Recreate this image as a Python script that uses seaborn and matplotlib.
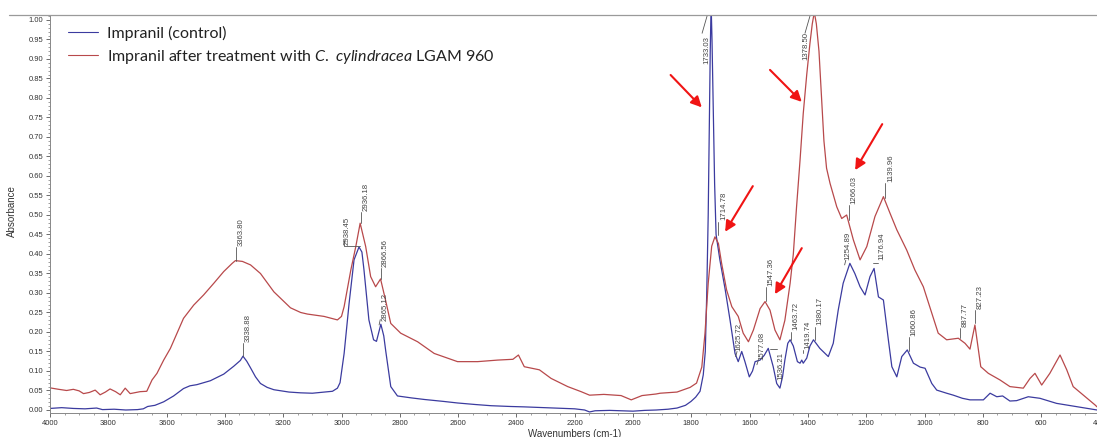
import numpy as np
import pandas as pd
import matplotlib
matplotlib.use("Agg")
import matplotlib.pyplot as plt
from matplotlib.lines import Line2D
from matplotlib.ticker import MultipleLocator, FormatStrFormatter
import seaborn as sns

# ---------------- data ----------------
control_wn = [4000, 3960, 3920, 3880, 3840, 3820, 3780, 3740, 3700, 3680, 3665, 3640, 3610, 3576,
              3542, 3520, 3496, 3450, 3404, 3370, 3347, 3338, 3325, 3312, 3295, 3278, 3255, 3232,
              3180, 3140, 3100, 3060, 3031, 3014, 3005, 2991, 2974, 2957, 2940, 2930, 2923, 2906,
              2890, 2880, 2865, 2855, 2848, 2831, 2808, 2760, 2716, 2650, 2602, 2540, 2487, 2420,
              2373, 2300, 2258, 2200, 2166, 2149, 2130, 2080, 2040, 2000, 1960, 1920, 1880, 1849,
              1820, 1801, 1785, 1770, 1759, 1752, 1747, 1742, 1738, 1735, 1732, 1729, 1725, 1720,
              1715, 1702, 1684, 1667, 1650, 1639, 1627, 1616, 1601, 1590, 1581, 1564, 1550, 1536,
              1519, 1507, 1496, 1487, 1479, 1469, 1461, 1450, 1436, 1427, 1421, 1416, 1404, 1393,
              1381, 1359, 1330, 1313, 1296, 1279, 1256, 1239, 1221, 1204, 1187, 1173, 1158, 1141,
              1124, 1112, 1095, 1078, 1059, 1038, 1015, 998, 975, 958, 924, 901, 870, 844, 820,
              798, 775, 752, 732, 707, 684, 644, 604, 547, 490, 450, 408]
control_abs = [0.004, 0.006, 0.004, 0.003, 0.005, 0.001, 0.002, 0.000, 0.001, 0.003, 0.009, 0.012,
               0.021, 0.036, 0.055, 0.062, 0.065, 0.075, 0.092, 0.112, 0.127, 0.138, 0.125, 0.108,
               0.085, 0.068, 0.058, 0.052, 0.046, 0.044, 0.043, 0.046, 0.048, 0.056, 0.070, 0.145,
               0.273, 0.385, 0.418, 0.405, 0.360, 0.231, 0.180, 0.176, 0.220, 0.190, 0.150, 0.060,
               0.036, 0.031, 0.027, 0.022, 0.018, 0.014, 0.011, 0.009, 0.008, 0.006, 0.005, 0.003,
               0.000, -0.005, -0.002, -0.001, -0.002, -0.003, -0.001, 0.000, 0.002, 0.005, 0.012,
               0.022, 0.033, 0.048, 0.090, 0.150, 0.300, 0.500, 0.750, 0.920, 1.040, 0.950, 0.780,
               0.580, 0.450, 0.385, 0.310, 0.230, 0.145, 0.124, 0.150, 0.124, 0.085, 0.100, 0.124,
               0.128, 0.140, 0.158, 0.111, 0.068, 0.056, 0.085, 0.128, 0.171, 0.180, 0.164, 0.124,
               0.120, 0.128, 0.120, 0.133, 0.164, 0.180, 0.158, 0.137, 0.171, 0.256, 0.325, 0.376,
               0.350, 0.316, 0.295, 0.342, 0.363, 0.290, 0.282, 0.180, 0.111, 0.085, 0.137, 0.154,
               0.120, 0.110, 0.107, 0.068, 0.051, 0.043, 0.038, 0.030, 0.026, 0.026, 0.026, 0.043,
               0.034, 0.036, 0.023, 0.024, 0.034, 0.030, 0.017, 0.010, 0.005, 0.000]

treated_wn = [4000, 3994, 3970, 3943, 3920, 3900, 3885, 3865, 3845, 3828, 3810, 3794, 3775, 3759,
              3742, 3725, 3705, 3691, 3668, 3650, 3633, 3610, 3587, 3564, 3542, 3507, 3473, 3438,
              3404, 3375, 3364, 3340, 3312, 3278, 3232, 3200, 3175, 3140, 3117, 3060, 3014, 3000,
              2991, 2968, 2951, 2936, 2917, 2900, 2883, 2866, 2849, 2831, 2797, 2739, 2682, 2602,
              2533, 2464, 2412, 2393, 2373, 2321, 2281, 2224, 2178, 2149, 2100, 2041, 2006, 1969,
              1921, 1907, 1849, 1804, 1782, 1764, 1753, 1742, 1730, 1719, 1707, 1696, 1679, 1661,
              1639, 1622, 1604, 1587, 1564, 1547, 1530, 1513, 1496, 1479, 1461, 1450, 1439, 1427,
              1416, 1404, 1393, 1385, 1378, 1371, 1362, 1353, 1345, 1336, 1324, 1301, 1284, 1267,
              1244, 1221, 1198, 1170, 1141, 1118, 1095, 1061, 1033, 1004, 975, 953, 924, 884, 861,
              844, 827, 815, 807, 781, 741, 707, 661, 638, 621, 598, 570, 535, 512, 490, 455, 415,
              408]
treated_abs = [0.057, 0.056, 0.053, 0.050, 0.053, 0.049, 0.042, 0.045, 0.051, 0.039, 0.046, 0.054,
               0.047, 0.039, 0.056, 0.042, 0.045, 0.047, 0.048, 0.077, 0.094, 0.128, 0.158, 0.197,
               0.235, 0.269, 0.295, 0.325, 0.355, 0.376, 0.383, 0.381, 0.372, 0.350, 0.303, 0.280,
               0.262, 0.250, 0.246, 0.240, 0.231, 0.240, 0.265, 0.359, 0.419, 0.479, 0.419, 0.342,
               0.316, 0.336, 0.282, 0.222, 0.197, 0.175, 0.145, 0.124, 0.124, 0.128, 0.130, 0.141,
               0.111, 0.103, 0.081, 0.060, 0.047, 0.038, 0.040, 0.037, 0.026, 0.037, 0.041, 0.043,
               0.046, 0.058, 0.069, 0.110, 0.197, 0.325, 0.420, 0.444, 0.427, 0.376, 0.308, 0.265,
               0.240, 0.197, 0.175, 0.205, 0.260, 0.278, 0.256, 0.205, 0.180, 0.230, 0.325, 0.400,
               0.520, 0.640, 0.760, 0.860, 0.940, 0.990, 1.020, 0.990, 0.920, 0.800, 0.690, 0.620,
               0.581, 0.521, 0.491, 0.500, 0.436, 0.385, 0.419, 0.496, 0.547, 0.504, 0.462, 0.410,
               0.359, 0.316, 0.248, 0.197, 0.180, 0.184, 0.171, 0.156, 0.218, 0.154, 0.111, 0.094,
               0.077, 0.060, 0.056, 0.081, 0.094, 0.064, 0.094, 0.141, 0.103, 0.060, 0.038, 0.013,
               0.008]

series_names = ["Impranil (control)",
                r"Impranil after treatment with $\mathit{C.\ cylindracea}$ LGAM 960"]

x_ticks = list(range(4000, 399, -200))

# peak labels: text, line wavenumber, line bottom, line top
peak_texts = ["3363.80", "3338.88", "2936.18", "2866.56", "1714.78", "1547.36", "1463.72",
              "1419.74", "1380.17", "1266.03", "1139.96", "1060.86", "887.77", "827.23"]
peak_wn = [3362, 3337, 2934, 2866, 1707, 1545, 1458, 1418, 1377, 1259, 1134, 1052, 877, 826]
peak_a0 = [0.383, 0.138, 0.479, 0.336, 0.449, 0.280, 0.179, 0.146, 0.179, 0.487, 0.544, 0.150,
           0.185, 0.223]
peak_a1 = [0.418, 0.172, 0.508, 0.364, 0.483, 0.316, 0.201, 0.154, 0.214, 0.526, 0.582, 0.188,
           0.210, 0.256]

# labels with slanted / bracket leaders: text, text-wn, text-bottom, leader points
free_texts = ["2938.45", "2865.12", "1733.03", "1378.50", "1625.72", "1577.08", "1536.21",
              "1254.89", "1176.94"]
free_wn = [2981, 2851, 1745, 1408, 1636, 1559, 1492, 1263, 1145]
free_a = [0.423, 0.228, 0.887, 0.897, 0.150, 0.128, 0.077, 0.385, 0.385]
leaders = [((2991, 0.436), (2991, 0.420), (2938, 0.420)),
           ((2871, 0.218), (2867, 0.232)),
           ((1763, 0.966), (1746, 1.010)),
           ((1410, 0.966), (1393, 1.010)),
           ((1648, 0.137), (1643, 0.150)),
           ((1575, 0.116), (1570, 0.128)),
           ((1530, 0.157), (1505, 0.157)),
           ((1274, 0.372), (1270, 0.384)),
           ((1177, 0.378), (1160, 0.378))]

# red arrows: tail -> head
arrow_tail = [(1871, 0.859), (1530, 0.872), (1145, 0.733), (1589, 0.574), (1421, 0.415)]
arrow_head = [(1764, 0.776), (1421, 0.790), (1238, 0.615), (1684, 0.457), (1513, 0.297)]

# ---------------- figure ----------------
sns.set_style("ticks")
plt.rcParams['font.family'] = ['Liberation Sans', 'DejaVu Sans']
plt.rcParams['mathtext.fontset'] = 'custom'
plt.rcParams['mathtext.it'] = 'Lato:italic'
plt.rcParams['mathtext.rm'] = 'Lato'

W, H = 1097, 437
fig = plt.figure(figsize=(W / 100, H / 100), dpi=100)
ax = fig.add_axes([50 / W, (H - 413) / H, 1049.4 / W, 398 / H])

BLUE = "#3b3b9f"
RED = "#b8494b"

df = pd.concat([
    pd.DataFrame({"wn": control_wn, "A": control_abs, "series": series_names[0]}),
    pd.DataFrame({"wn": treated_wn, "A": treated_abs, "series": series_names[1]}),
])
sns.lineplot(data=df, x="wn", y="A", hue="series", palette=[BLUE, RED],
             estimator=None, sort=False, lw=0.9, legend=False, ax=ax)

ax.set_xlim(4000, 400)
ax.set_ylim(-0.0077, 1.0128)
ax.set_xticks(x_ticks)
ax.xaxis.set_minor_locator(MultipleLocator(50))
ax.yaxis.set_major_locator(MultipleLocator(0.05))
ax.yaxis.set_minor_locator(MultipleLocator(0.01))
ax.yaxis.set_major_formatter(FormatStrFormatter("%.2f"))
ax.tick_params(which="major", length=3, width=0.6, labelsize=5.5, colors="#555",
               labelcolor="#333", pad=2)
ax.tick_params(which="minor", length=1.5, width=0.5, colors="#777")
for s in ("top", "right"):
    ax.spines[s].set_visible(False)
for s in ("left", "bottom"):
    ax.spines[s].set_color("#888")
    ax.spines[s].set_linewidth(0.7)

ax.set_xlabel("Wavenumbers (cm-1)", fontsize=7, color="#333")
ax.set_ylabel("Absorbance", fontsize=7, color="#333")
ax.xaxis.set_label_coords(0.5003, -0.040)
ax.yaxis.set_label_coords(-0.031, 0.5075)

# top frame line
fig.add_artist(Line2D([9 / W, 1.0], [1 - 15 / H] * 2, color="#9a9a9a", lw=0.9))

# peak labels
lab_kw = dict(rotation=90, ha="center", va="bottom", fontsize=5.6, color="#444")
for t, w, a0, a1 in zip(peak_texts, peak_wn, peak_a0, peak_a1):
    ax.plot([w, w], [a0, a1], color="#555", lw=0.6)
    ax.text(w - 17, a1 + 0.003, t, **lab_kw)
for t, w, a, ld in zip(free_texts, free_wn, free_a, leaders):
    xs = [p[0] for p in ld]
    ys = [p[1] for p in ld]
    ax.plot(xs, ys, color="#555", lw=0.6, clip_on=False)
    ax.text(w, a, t, **lab_kw)

# red arrows
for (tw, ta), (hw, ha) in zip(arrow_tail, arrow_head):
    ax.annotate("", xy=(hw, ha), xytext=(tw, ta),
                arrowprops=dict(arrowstyle="-|>,head_length=0.7,head_width=0.35",
                                color="#f01414", lw=1.5, shrinkA=0, shrinkB=0,
                                mutation_scale=9))

# legend
handles = [Line2D([], [], color=BLUE, lw=0.8), Line2D([], [], color=RED, lw=0.8)]
leg = ax.legend(handles, series_names, loc="upper left",
                bbox_to_anchor=(68 / W, 1 - 26 / H), bbox_transform=fig.transFigure,
                frameon=False, prop={"family": "Lato", "size": 11.5},
                handlelength=1.88, handletextpad=0.56, labelspacing=0.42,
                borderpad=0, borderaxespad=0)
for txt in leg.get_texts():
    txt.set_color("#222")

fig.savefig("out.png", dpi=100)
